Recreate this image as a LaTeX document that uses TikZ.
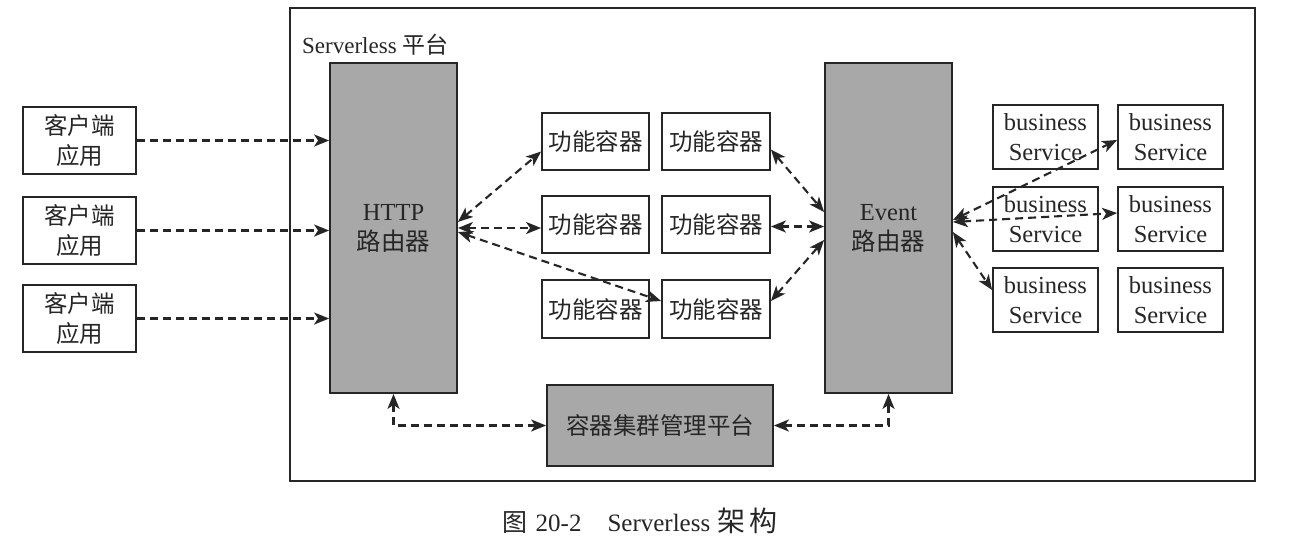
\documentclass[tikz,border=0pt]{standalone}
\usepackage{fontspec}
\setmainfont{Liberation Serif}
\newfontfamily\cjk{Noto Sans CJK SC}
\usetikzlibrary{arrows.meta}
\definecolor{ink}{HTML}{262626}
\definecolor{boxgray}{HTML}{A8A8A8}
\begin{document}
\begin{tikzpicture}[x=1pt,y=-1pt,
  box/.style={draw=ink,line width=1.8pt,rectangle,inner sep=0pt,align=center,text=ink},
  graybox/.style={box,fill=boxgray},
  zh/.style={font=\cjk\fontsize{23.5}{30}\selectfont},
  mixed/.style={font=\fontsize{24.5}{30}\selectfont},
  darr/.style={draw=ink,line width=2.1pt,dash pattern=on 8pt off 5pt,
     {Stealth[length=15pt,width=12pt,inset=4pt]}-{Stealth[length=15pt,width=12pt,inset=4pt]}},
  sarr/.style={draw=ink,line width=2.1pt,dash pattern=on 8pt off 5pt,
     -{Stealth[length=15pt,width=12pt,inset=4pt]}}]
\useasboundingbox (0,0) rectangle (1290,542);
% frame
\node[draw=ink,line width=1.8pt,minimum width=965pt,minimum height=473pt,inner sep=0pt] (frame) at (772.5,244.5) {};
\node[anchor=west,font=\fontsize{23}{28}\selectfont,text=ink,inner sep=0pt] (plat) at (302,45) {Serverless {\cjk 平台}};
% clients
\node[box,zh,minimum width=113pt,minimum height=67pt] (c1) at (79.5,140.5) {客户端\\应用};
\node[box,zh,minimum width=113pt,minimum height=67pt] (c2) at (79.5,230.5) {客户端\\应用};
\node[box,zh,minimum width=113pt,minimum height=67pt] (c3) at (79.5,318.5) {客户端\\应用};
% routers
\node[graybox,mixed,minimum width=127pt,minimum height=330pt] (http) at (393.5,228) {HTTP\\{\cjk 路由器}};
\node[graybox,mixed,minimum width=127pt,minimum height=330pt] (event) at (888.5,228) {Event\\{\cjk 路由器}};
% function containers
\node[box,zh,minimum width=107pt,minimum height=57pt] (f11) at (595.5,141.5) {功能容器};
\node[box,zh,minimum width=108pt,minimum height=57pt] (f12) at (716,141.5) {功能容器};
\node[box,zh,minimum width=107pt,minimum height=57pt] (f21) at (595.5,224.5) {功能容器};
\node[box,zh,minimum width=108pt,minimum height=57pt] (f22) at (716,224.5) {功能容器};
\node[box,zh,minimum width=107pt,minimum height=58pt] (f31) at (595.5,309) {功能容器};
\node[box,zh,minimum width=108pt,minimum height=58pt] (f32) at (716,309) {功能容器};
% business services
\node[box,mixed,minimum width=105pt,minimum height=64pt] (b11) at (1045.5,137) {business\\Service};
\node[box,mixed,minimum width=105pt,minimum height=64pt] (b12) at (1170.5,137) {business\\Service};
\node[box,mixed,minimum width=105pt,minimum height=64pt] (b21) at (1045.5,219) {business\\Service};
\node[box,mixed,minimum width=105pt,minimum height=64pt] (b22) at (1170.5,219) {business\\Service};
\node[box,mixed,minimum width=105pt,minimum height=64pt] (b31) at (1045.5,300) {business\\Service};
\node[box,mixed,minimum width=105pt,minimum height=64pt] (b32) at (1170.5,300) {business\\Service};
% manager
\node[graybox,zh,minimum width=226pt,minimum height=81pt] (mgr) at (660,425.5) {容器集群管理平台};
% caption
\node[font=\fontsize{25}{28}\selectfont,text=ink,inner sep=0pt] (cap) at (640,521) {{\cjk 图}\hspace{8pt}20-2\hspace{26pt}Serverless\hspace{7pt}{\cjk\fontsize{28}{30}\selectfont 架\hspace{4pt}构}};
% client arrows
\draw[sarr] (c1.east) -- (c1.east -| http.west);
\draw[sarr] (c2.east) -- (c2.east -| http.west);
\draw[sarr] (c3.east) -- (c3.east -| http.west);
% http to containers
\draw[darr] ([yshift=6pt]http.east) -- ([yshift=-10pt]f11.west);
\draw[darr] (http.east) -- (http.east -| f21.west);
\draw[darr] ([yshift=-4pt]http.east) -- ([yshift=8pt]f32.west);
% containers to event
\draw[darr] ([yshift=-8pt]f12.east) -- ([yshift=16pt]event.west);
\draw[darr] ([yshift=-2pt]f22.east) -- ([yshift=-2pt]f22.east -| event.west);
\draw[darr] ([yshift=8pt]f32.east) -- ([yshift=-12pt]event.west);
% event to business
\draw[darr] ([yshift=8pt]event.east) -- ([yshift=-3pt]b12.west);
\draw[darr] ([yshift=6pt]event.east) -- ([yshift=6pt]b22.west);
\draw[darr] ([yshift=-4pt]event.east) -- ([yshift=10pt]b31.west);
% manager links
\draw[darr] (mgr.west) -| (http.south);
\draw[darr] (mgr.east) -| (event.south);
\end{tikzpicture}
\end{document}
